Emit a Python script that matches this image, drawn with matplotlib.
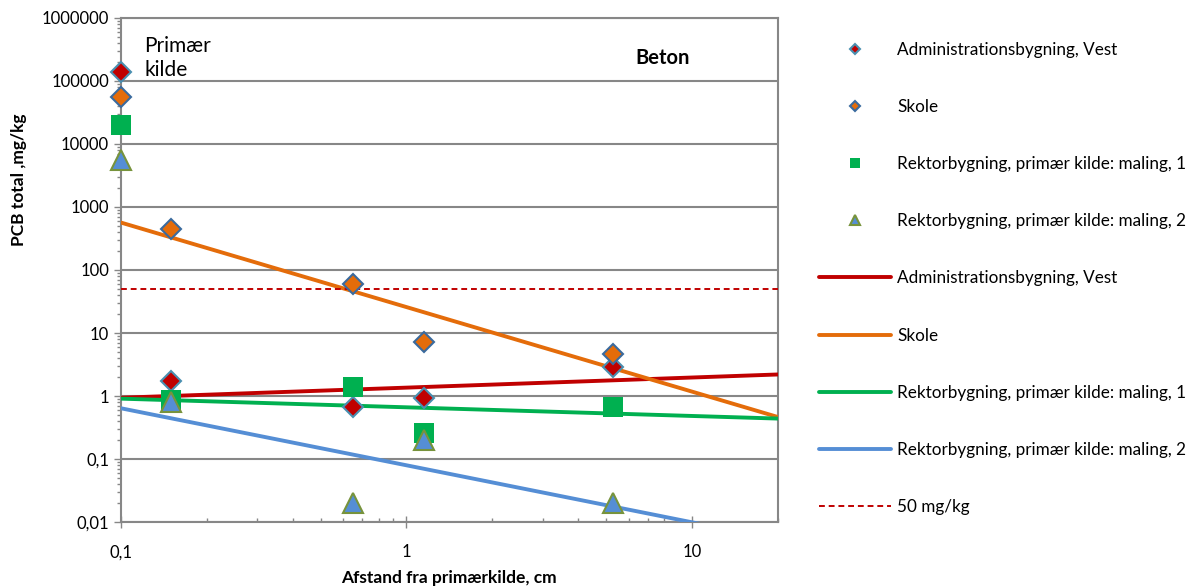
import numpy as np
import matplotlib.pyplot as plt
from matplotlib.ticker import LogLocator, FixedLocator, NullFormatter

plt.rcParams['font.family'] = ['Lato', 'DejaVu Sans']

# afstand fra primaerkilde (cm), 0.1 = primaer kilde
dist = [0.1, 0.15, 0.65, 1.15, 5.3]
admin = [140000, 1.73, 0.67, 0.93, 2.9]
skole = [55000, 448, 60, 7.2, 4.6]
rektor1 = [20000, 0.85, 1.39, 0.26, 0.67]
rektor2 = [5600, 0.8, 0.02, 0.2, 0.02]
limit = 50

names = ["Administrationsbygning, Vest", "Skole",
         "Rektorbygning, primær kilde: maling, 1",
         "Rektorbygning, primær kilde: maling, 2"]
yticks = [0.01, 0.1, 1, 10, 100, 1000, 10000, 100000, 1000000]
ytick_labels = ["0,01", "0,1", "1", "10", "100", "1000", "10000", "100000", "1000000"]
xticks = [0.1, 1, 10]
xtick_labels = ["0,1", "1", "10"]

GRAY = "#878787"
fig = plt.figure(figsize=(11.93, 5.86), dpi=100)
ax = fig.add_axes([0.1014, 0.1092, 0.5506, 0.8601])
ax.set_xscale("log")
ax.set_yscale("log")
ax.set_xlim(0.1, 20)
ax.set_ylim(0.01, 1000000)

series = [admin, skole, rektor1, rektor2]
mstyle = [
    dict(marker="D", ms=10.5, mfc="#C00000", mec="#4A8FB0", mew=1.5),
    dict(marker="D", ms=10.5, mfc="#E46C0A", mec="#3A6A9E", mew=1.5),
    dict(marker="s", ms=14.5, mfc="#00B050", mec="#00B050", mew=0),
    dict(marker="^", ms=15, mfc="#558ED5", mec="#77933C", mew=1.5),
]
lcolors = ["#C00000", "#E46C0A", "#00B050", "#558ED5"]

handles = []
for vals, st, name in zip(series, mstyle, names):
    h, = ax.plot(dist, vals, ls="none", zorder=4, label=name, clip_on=False, **st)
    handles.append(h)

# power trend lines (fit without the primary source point)
xx = np.logspace(-1, np.log10(20), 50)
for vals, c, name in zip(series, lcolors, names):
    k, m = np.polyfit(np.log10(dist[1:]), np.log10(vals[1:]), 1)
    h, = ax.plot(xx, 10 ** (m + k * np.log10(xx)), color=c, lw=2.8,
                 solid_capstyle="round", zorder=3, label=name)
    handles.append(h)

h = ax.axhline(limit, color="#C00000", ls=(0, (3, 2)), lw=1.4, zorder=3,
               label="50 mg/kg")
handles.append(h)

ax.yaxis.set_major_locator(FixedLocator(yticks))
ax.set_yticklabels(ytick_labels)
ax.yaxis.set_minor_locator(LogLocator(base=10, subs=np.arange(2, 10), numticks=20))
ax.yaxis.set_minor_formatter(NullFormatter())
ax.xaxis.set_major_locator(FixedLocator(xticks))
ax.set_xticklabels(xtick_labels)
ax.xaxis.set_minor_locator(LogLocator(base=10, subs=np.arange(2, 10), numticks=20))
ax.xaxis.set_minor_formatter(NullFormatter())

ax.grid(True, which="major", axis="y", color=GRAY, lw=1.5)
ax.set_axisbelow(True)
for s in ax.spines.values():
    s.set_color(GRAY)
    s.set_linewidth(1.5)
ax.tick_params(axis="both", which="major", colors=GRAY, labelcolor="black",
               labelsize=12, length=5, width=1, direction="out")
ax.tick_params(axis="both", which="minor", colors=GRAY, length=3, width=1,
               direction="out")
ax.tick_params(axis="x", which="minor", direction="in")
ax.tick_params(axis="x", which="major", direction="inout", length=8, pad=12)

ax.set_xlabel("Afstand fra primærkilde, cm", fontsize=12.5, fontweight="bold",
              labelpad=7)
ax.set_ylabel("PCB total ,mg/kg", fontsize=12.5, fontweight="bold")
ax.yaxis.set_label_coords(-0.143, 0.68)

ax.text(0.036, 0.965, "Primær\nkilde", transform=ax.transAxes, fontsize=15,
        va="top", ha="left", linespacing=1.25)
ax.text(0.824, 0.92, "Beton", transform=ax.transAxes, fontsize=14.5,
        fontweight="bold", va="center", ha="center")

fig.legend(handles=handles, loc="upper left", bbox_to_anchor=(0.674, 0.955),
           frameon=False, fontsize=12.3, labelspacing=2.41, handlelength=4.2,
           handletextpad=0.35, markerscale=0.5)

fig.savefig("out.png", dpi=100)
